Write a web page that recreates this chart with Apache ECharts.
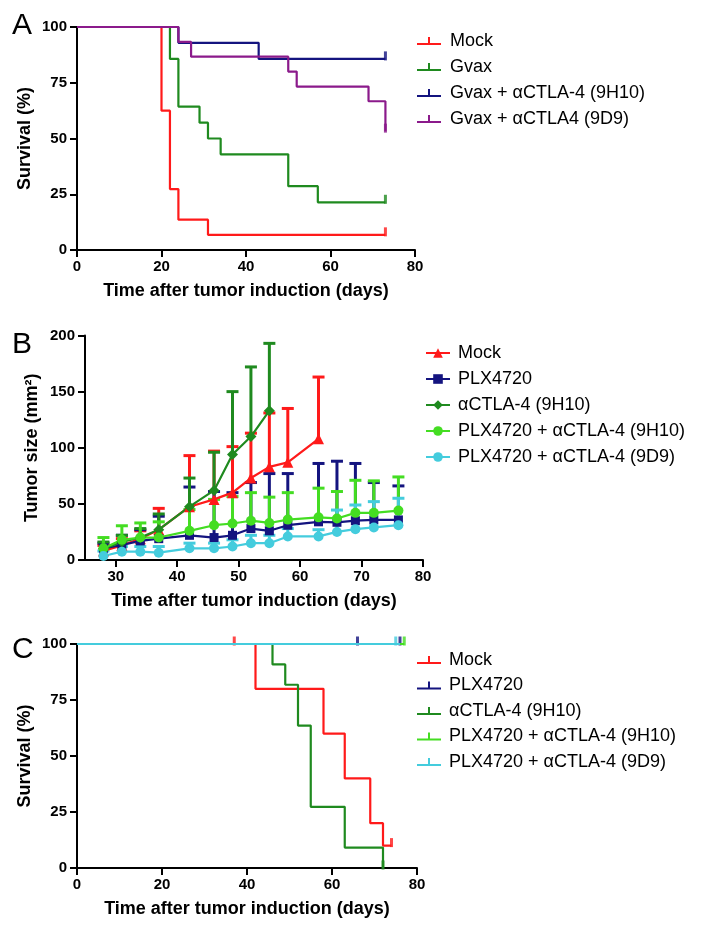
<!DOCTYPE html>
<html><head><meta charset="utf-8">
<script src="https://cdn.jsdelivr.net/npm/echarts@6/dist/echarts.min.js"></script>
<style>html,body{margin:0;padding:0;background:#fff}#c{width:705px;height:932px}</style>
</head><body><div id="c"></div>
<script>
// ---------- Panel A: survival ----------
const A_mock_t = [0, 20, 22, 24, 31, 73];
const A_mock_s = [100, 62.5, 27.3, 13.6, 6.8, 6.8];
const A_mock_cens = [73];
const A_gvax_t = [0, 22, 24, 29, 31, 34, 50, 57, 73];
const A_gvax_s = [100, 85.7, 64.3, 57.1, 50, 42.9, 28.6, 21.4, 21.4];
const A_gvax_cens = [73];
const A_9h10_t = [0, 24, 43, 73];
const A_9h10_s = [100, 92.9, 85.7, 85.7];
const A_9h10_cens = [73];
const A_9d9_t = [0, 24, 27, 50, 52, 69, 73];
const A_9d9_s = [100, 93.3, 86.7, 80, 73.3, 66.7, 53.3];
const A_9d9_cens = [73];
const A_names = ['Mock', 'Gvax', 'Gvax + \u03b1CTLA-4 (9H10)', 'Gvax + \u03b1CTLA4 (9D9)'];

// ---------- Panel B: tumor size ----------
const B_days = [28, 31, 34, 37, 42, 46, 49, 52, 55, 58, 63, 66, 69, 72, 76];
const B_mock = [8, 13, 19, 27, 47.5, 54, 60, 73, 83, 87, 108];
const B_mock_err = [13, 19, 26, 46, 93, 97, 101, 113, 131, 135, 163];
const B_plx = [10.4, 13.4, 17, 19, 22, 20, 22, 28, 26, 31, 34, 33.6, 35, 35.7, 35.7];
const B_plx_err = [15, 22, 27, 39, 65, 61, 60, 69, 77, 77, 86, 88, 86, 69, 66];
const B_ctla = [10, 16, 20, 27, 47.5, 62, 94, 110, 133];
const B_ctla_err = [16, 22, 28, 41, 73, 96, 150, 172, 193];
const B_plx9h10 = [10.4, 18, 20, 20, 26, 31, 32.5, 35, 33, 36, 38, 37, 42, 42, 44];
const B_plx9h10_err = [20, 30.5, 33, 34, 45, 54, 56.5, 60, 56, 60, 64, 61, 71, 70.5, 74];
const B_plx9d9 = [3.6, 7.4, 7.4, 6.5, 10.4, 10.4, 12, 15, 15, 21, 21, 25, 27.5, 29, 31];
const B_plx9d9_err = [8, 12, 12, 12, 15, 15, 18, 22, 22, 28, 27, 44.5, 49, 52, 55];
const B_names = ['Mock', 'PLX4720', '\u03b1CTLA-4 (9H10)', 'PLX4720 + \u03b1CTLA-4 (9H10)', 'PLX4720 + \u03b1CTLA-4 (9D9)'];
const B_xTicks = [30, 40, 50, 60, 70, 80];

// ---------- Panel C: survival ----------
const C_mock_t = [0, 42, 58, 63, 69, 72, 74];
const C_mock_s = [100, 80, 60, 40, 20, 10, 10];
const C_mock_cens = [37, 74];
const C_plx_t = [0, 76];
const C_plx_s = [100, 100];
const C_plx_cens = [66, 76];
const C_ctla_t = [0, 46, 49, 52, 55, 63, 72];
const C_ctla_s = [100, 90.9, 81.8, 63.6, 27.3, 9.1, 0];
const C_ctla_cens = [72];
const C_plx9h10_t = [0, 77];
const C_plx9h10_s = [100, 100];
const C_plx9h10_cens = [77];
const C_plx9d9_t = [0, 76];
const C_plx9d9_s = [100, 100];
const C_plx9d9_cens = [75];
const C_names = B_names;

const RED = '#ff1a1a', GREEN = '#1f8a1f', NAVY = '#14147f', PURPLE = '#8b1a8b',
      LGREEN = '#44dd22', CYAN = '#44ccdd';
const FF = '"Liberation Sans", Arial, Helvetica, sans-serif';

const chart = echarts.init(document.getElementById('c'));

function axis(extra) {
  return Object.assign({
    type: 'value',
    axisLine: {show: true, onZero: false, lineStyle: {color: '#000', width: 2}},
    axisTick: {show: true, inside: false, length: 7, lineStyle: {color: '#000', width: 2}},
    axisLabel: {color: '#000', fontSize: 15, fontWeight: 'bold', fontFamily: FF},
    splitLine: {show: false},
    nameLocation: 'middle',
    nameTextStyle: {color: '#000', fontSize: 18, fontWeight: 'bold', fontFamily: FF}
  }, extra);
}

function survAt(t, s, x) {
  let v = s[0];
  for (let i = 0; i < t.length; i++) if (t[i] <= x) v = s[i];
  return v;
}
function km(name, t, s, color, gi) {
  return {type: 'line', name: name, xAxisIndex: gi, yAxisIndex: gi, step: 'end', symbol: 'none',
    data: t.map((x, i) => [x, s[i]]), lineStyle: {color: color, width: 2.2}, itemStyle: {color: color},
    clip: false, animation: false};
}
function cens(name, t, s, ct, color, gi) {
  return {type: 'scatter', name: name + ' (censored)', xAxisIndex: gi, yAxisIndex: gi,
    symbol: 'rect', symbolSize: [3, 9], symbolOffset: [0, -3],
    data: ct.map(x => [x, survAt(t, s, x)]), itemStyle: {color: color}, clip: false, animation: false, silent: true};
}
function errS(name, mean, top, color) {
  return {type: 'custom', name: name + ' (SD)', xAxisIndex: 1, yAxisIndex: 1, animation: false, silent: true,
    data: mean.map((m, i) => [B_days[i], m, top[i]]),
    encode: {x: 0, y: [1, 2]},
    renderItem: function (params, api) {
      const p0 = api.coord([api.value(0), api.value(1)]);
      const p1 = api.coord([api.value(0), api.value(2)]);
      return {type: 'group', children: [
        {type: 'line', shape: {x1: p0[0], y1: p0[1], x2: p1[0], y2: p1[1]}, style: {stroke: color, lineWidth: 3}},
        {type: 'line', shape: {x1: p1[0] - 6, y1: p1[1], x2: p1[0] + 6, y2: p1[1]}, style: {stroke: color, lineWidth: 3}}
      ]};
    }};
}
function grow(name, mean, color, sym, size) {
  return {type: 'line', name: name, xAxisIndex: 1, yAxisIndex: 1, symbol: sym, symbolSize: size,
    data: mean.map((m, i) => [B_days[i], m]), lineStyle: {color: color, width: 2.2},
    itemStyle: {color: color}, animation: false};
}

const tickIcon = 'path://M0,6L24,6L24,8L0,8Z M11,0L13,0L13,8L11,8Z';

const series = [];
// Panel A
const Aset = [[A_mock_t, A_mock_s, A_mock_cens, RED], [A_gvax_t, A_gvax_s, A_gvax_cens, GREEN],
  [A_9h10_t, A_9h10_s, A_9h10_cens, NAVY], [A_9d9_t, A_9d9_s, A_9d9_cens, PURPLE]];
Aset.forEach((d, i) => {
  series.push(km('A|' + A_names[i], d[0], d[1], d[3], 0));
  series.push(cens('A|' + A_names[i], d[0], d[1], d[2], d[3], 0));
});
// Panel B
const Bset = [[B_mock, B_mock_err, RED, 'triangle', 11], [B_plx, B_plx_err, NAVY, 'rect', 9],
  [B_ctla, B_ctla_err, GREEN, 'diamond', 11], [B_plx9h10, B_plx9h10_err, LGREEN, 'circle', 10],
  [B_plx9d9, B_plx9d9_err, CYAN, 'circle', 10]];
Bset.forEach((d, i) => {
  series.push(errS('B|' + B_names[i], d[0], d[1], d[2]));
  series.push(grow('B|' + B_names[i], d[0], d[2], d[3], d[4]));
});
// Panel C
const Cset = [[C_mock_t, C_mock_s, C_mock_cens, RED], [C_plx_t, C_plx_s, C_plx_cens, NAVY],
  [C_ctla_t, C_ctla_s, C_ctla_cens, GREEN], [C_plx9h10_t, C_plx9h10_s, C_plx9h10_cens, LGREEN],
  [C_plx9d9_t, C_plx9d9_s, C_plx9d9_cens, CYAN]];
Cset.forEach((d, i) => {
  series.push(km('C|' + C_names[i], d[0], d[1], d[3], 2));
  series.push(cens('C|' + C_names[i], d[0], d[1], d[2], d[3], 2));
});

function legendBase(padLeft) {
  return {
    orient: 'vertical', itemWidth: 24, itemGap: 8, itemHeight: 8,
    textStyle: {color: '#000', fontSize: 18, fontFamily: FF, padding: [0, 0, 0, padLeft]},
    formatter: n => n.split('|')[1], selectedMode: false
  };
}

const option = {
  backgroundColor: '#fff',
  animation: false,
  grid: [
    {left: 77, top: 27, width: 338, height: 223},
    {left: 85, top: 335.5, width: 338, height: 224.5},
    {left: 77, top: 644, width: 340, height: 224}
  ],
  xAxis: [
    axis({gridIndex: 0, min: 0, max: 80, interval: 20, name: 'Time after tumor induction (days)', nameGap: 32,
      axisLabel: {color: '#000', fontSize: 15, fontWeight: 'bold', fontFamily: FF, margin: 9}}),
    axis({gridIndex: 1, min: 25, max: 80, name: 'Time after tumor induction (days)', nameGap: 32,
      axisTick: {show: true, length: 7, customValues: B_xTicks, lineStyle: {color: '#000', width: 2}},
      axisLabel: {color: '#000', fontSize: 15, fontWeight: 'bold', fontFamily: FF, margin: 9, customValues: B_xTicks}}),
    axis({gridIndex: 2, min: 0, max: 80, interval: 20, name: 'Time after tumor induction (days)', nameGap: 32,
      axisLabel: {color: '#000', fontSize: 15, fontWeight: 'bold', fontFamily: FF, margin: 9}})
  ],
  yAxis: [
    axis({gridIndex: 0, min: 0, max: 100, interval: 25, name: 'Survival (%)', nameGap: 43,
      axisLabel: {color: '#000', fontSize: 15, fontWeight: 'bold', fontFamily: FF, margin: 10}}),
    axis({gridIndex: 1, min: 0, max: 200, interval: 50, name: 'Tumor size (mm\u00b2)', nameGap: 44,
      axisLabel: {color: '#000', fontSize: 15, fontWeight: 'bold', fontFamily: FF, margin: 10}}),
    axis({gridIndex: 2, min: 0, max: 100, interval: 25, name: 'Survival (%)', nameGap: 43,
      axisLabel: {color: '#000', fontSize: 15, fontWeight: 'bold', fontFamily: FF, margin: 10}})
  ],
  legend: [
    Object.assign(legendBase(4), {left: 412, top: 27,
      data: A_names.map(n => ({name: 'A|' + n, icon: tickIcon}))}),
    Object.assign(legendBase(3), {left: 420, top: 339, itemHeight: 12,
      data: B_names.map(n => ({name: 'B|' + n}))}),
    Object.assign(legendBase(3), {left: 412, top: 646, itemGap: 7.5,
      data: C_names.map(n => ({name: 'C|' + n, icon: tickIcon}))})
  ],
  graphic: [
    {type: 'text', left: 12, top: 11, style: {text: 'A', fontSize: 30, fontFamily: FF, fill: '#000'}},
    {type: 'text', left: 12, top: 330, style: {text: 'B', fontSize: 30, fontFamily: FF, fill: '#000'}},
    {type: 'text', left: 12, top: 635, style: {text: 'C', fontSize: 30, fontFamily: FF, fill: '#000'}}
  ],
  series: series
};
chart.setOption(option);
</script>
</body></html>
